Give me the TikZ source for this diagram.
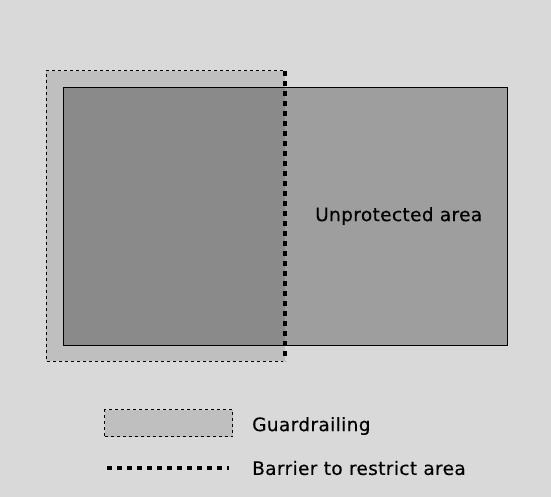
\documentclass[tikz,border=0pt]{standalone}
\usepackage{fontspec}
\setmainfont{DejaVu Sans}[LetterSpace=2,FakeBold=0.3]
\definecolor{bgc}{HTML}{D9D9D9}
\definecolor{guard}{HTML}{BFBFBF}
\definecolor{area}{HTML}{9E9E9E}
\definecolor{overlap}{HTML}{8A8A8A}
\begin{document}
\begin{tikzpicture}[x=1pt,y=-1pt,
  thindash/.style={line width=1pt,dash pattern=on 3pt off 3pt},
  barrier/.style={line width=4pt,dash pattern=on 5pt off 5pt},
  lbl/.style={font=\fontsize{18.5}{22}\selectfont,anchor=west,inner sep=0pt}]
  % canvas
  \fill[bgc] (0,0) rectangle (551,497);
  \useasboundingbox (0,0) rectangle (551,497);
  % guardrail zone and the area it partly covers
  \fill[guard] (46,71) rectangle (285,361);
  \fill[area] (63,87) rectangle (507,345);
  \fill[overlap] (63,87) rectangle (285,345);
  \node[draw,line width=1.2pt,minimum width=444pt,minimum height=258pt,inner sep=0pt,anchor=north west] (area) at (63,87) {};
  % guardrail outline
  \coordinate (gtr) at (285,71);
  \coordinate (gbr) at (285,361);
  \draw[thindash] (283,71) -- (46,71) -- (46,361) -- (283,361);
  % barrier on the open side
  \draw[barrier] (gtr) -- (gbr);
  \node[lbl] (ut) at (315,216) {Unprotected area};
  % legend
  \node[fill=guard,draw,thindash,minimum width=128pt,minimum height=27pt,inner sep=0pt,anchor=north west] (lg) at (104,409) {};
  \node[lbl] (lgt) at (252,426) {Guardrailing};
  \coordinate (lb1) at (107,468);
  \coordinate (lb2) at (229,468);
  \draw[barrier] (lb1) -- (lb2);
  \node[lbl] (lbt) at (252,468) {Barrier to restrict area};
\end{tikzpicture}
\end{document}
